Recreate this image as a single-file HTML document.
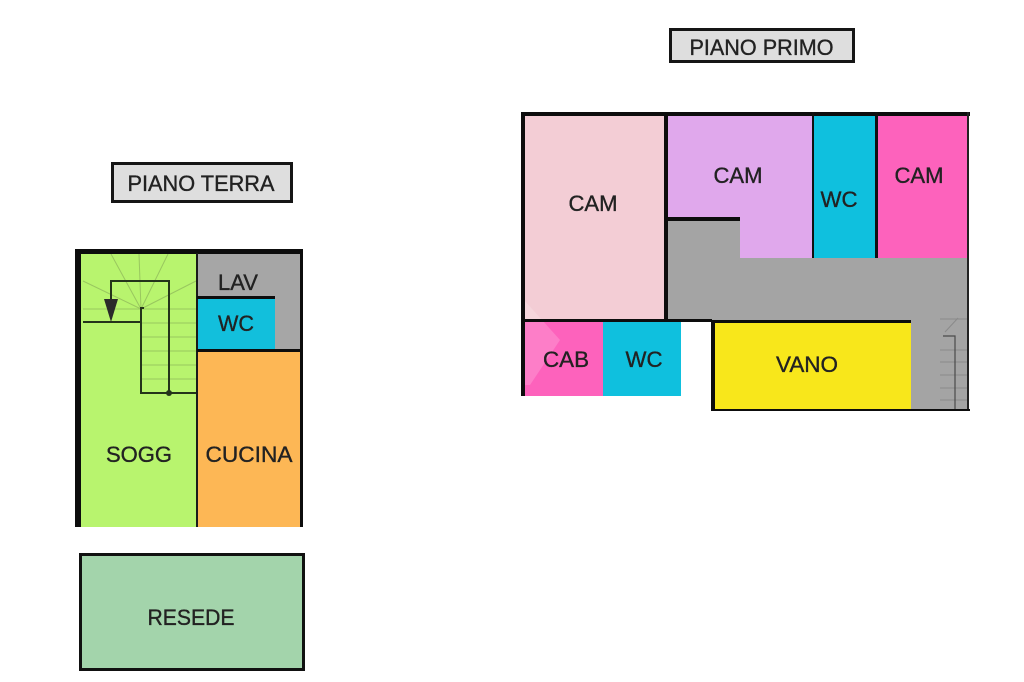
<!DOCTYPE html>
<html>
<head>
<meta charset="utf-8">
<style>
html,body{margin:0;padding:0;background:#fff;}
svg{display:block;}
text{font-family:"Liberation Sans",Arial,sans-serif;fill:#222;stroke:#222;stroke-width:0.35;}
</style>
</head>
<body>
<svg width="1024" height="682" viewBox="0 0 1024 682" xmlns="http://www.w3.org/2000/svg">
<rect x="0" y="0" width="1024" height="682" fill="#ffffff"/>

<!-- ===== Title boxes ===== -->
<rect x="670.5" y="29.5" width="183" height="32" fill="#dedede" stroke="#151515" stroke-width="3"/>
<text x="761.5" y="55" font-size="22" text-anchor="middle" textLength="144" lengthAdjust="spacingAndGlyphs">PIANO PRIMO</text>

<rect x="112.5" y="163.5" width="179" height="38" fill="#dedede" stroke="#151515" stroke-width="3"/>
<text x="201" y="191" font-size="22" text-anchor="middle" textLength="147" lengthAdjust="spacingAndGlyphs">PIANO TERRA</text>

<!-- ===== PIANO TERRA ===== -->
<rect x="81" y="253" width="116" height="274" fill="#b8f46e"/>
<rect x="197" y="253" width="104" height="97" fill="#a6a6a6"/>
<rect x="198" y="298" width="77" height="51" fill="#12bfdc"/>
<rect x="198" y="351" width="103" height="176" fill="#fdb755"/>

<g stroke="#8fb85a" stroke-width="1" fill="none" opacity="0.75">
  <line x1="141" y1="309" x2="83" y2="281"/>
  <line x1="141" y1="309" x2="111" y2="254"/>
  <line x1="141" y1="309" x2="139" y2="254"/>
  <line x1="141" y1="309" x2="168" y2="254"/>
  <line x1="141" y1="309" x2="196" y2="281"/>
  <line x1="83" y1="309" x2="196" y2="309"/>
  <line x1="141" y1="323" x2="196" y2="323"/>
  <line x1="141" y1="337" x2="196" y2="337"/>
  <line x1="141" y1="351" x2="196" y2="351"/>
  <line x1="141" y1="365" x2="196" y2="365"/>
  <line x1="141" y1="379" x2="196" y2="379"/>
</g>
<g stroke="#24341a" stroke-width="2" fill="none">
  <polyline points="111,301 111,281 169,281 169,393"/>
  <polyline points="83,322 141,322 141,308 144,308"/>
  <polyline points="141,322 141,393 197,393"/>
</g>
<polygon points="104,299 118,299 111,322" fill="#2a2a2a"/>
<circle cx="169" cy="393" r="3" fill="#24341a"/>

<rect x="75" y="249" width="228" height="5" fill="#0d0d0d"/>
<rect x="75" y="249" width="6" height="278" fill="#0d0d0d"/>
<rect x="300" y="249" width="3" height="278" fill="#0d0d0d"/>
<rect x="196" y="253" width="2" height="274" fill="#1a1a1a"/>
<rect x="197" y="296" width="78" height="3" fill="#0d0d0d"/>
<rect x="197" y="349" width="106" height="3" fill="#0d0d0d"/>

<text x="238" y="290" font-size="22" text-anchor="middle" textLength="40" lengthAdjust="spacingAndGlyphs">LAV</text>
<text x="236" y="331" font-size="22" text-anchor="middle" textLength="36" lengthAdjust="spacingAndGlyphs">WC</text>
<text x="139" y="462" font-size="22" text-anchor="middle" textLength="66" lengthAdjust="spacingAndGlyphs">SOGG</text>
<text x="249" y="462" font-size="22" text-anchor="middle" textLength="87" lengthAdjust="spacingAndGlyphs">CUCINA</text>

<rect x="80.5" y="554.5" width="223" height="115" fill="#a3d4ab" stroke="#111" stroke-width="3"/>
<text x="191" y="625" font-size="22" text-anchor="middle" textLength="87" lengthAdjust="spacingAndGlyphs">RESEDE</text>

<!-- ===== PIANO PRIMO ===== -->
<rect x="524" y="114" width="142" height="207" fill="#f3cdd5"/>
<rect x="667" y="114" width="147" height="144" fill="#e0a8ec"/>
<rect x="667" y="219" width="73" height="39" fill="#a4a4a4"/>
<rect x="813" y="114" width="64" height="144" fill="#0fc0de"/>
<rect x="877" y="114" width="92" height="144" fill="#fd62bc"/>
<rect x="667" y="258" width="302" height="63" fill="#a4a4a4"/>
<rect x="911" y="258" width="58" height="152" fill="#a4a4a4"/>
<rect x="524" y="322" width="79" height="74" fill="#fd62bc"/>
<rect x="603" y="322" width="78" height="74" fill="#0fc0de"/>
<rect x="714" y="322" width="197" height="88" fill="#f8e71b"/>

<path d="M524,300 L560,340 L530,385 L524,385 Z" fill="#ffffff" opacity="0.18"/>

<g stroke="#8a8a8a" stroke-width="1" fill="none">
  <line x1="940" y1="319" x2="968" y2="319"/>
  <line x1="945" y1="332" x2="958" y2="318"/>
  <line x1="940" y1="350" x2="968" y2="350"/>
  <line x1="940" y1="362" x2="968" y2="362"/>
  <line x1="940" y1="375" x2="968" y2="375"/>
  <line x1="940" y1="388" x2="968" y2="388"/>
  <line x1="940" y1="400" x2="968" y2="400"/>
</g>
<g stroke="#4a4a4a" stroke-width="1.2" fill="none">
  <polyline points="943,336 955,336 955,410"/>
</g>

<rect x="522" y="112" width="448" height="4" fill="#0d0d0d"/>
<rect x="521" y="112" width="4" height="284" fill="#0d0d0d"/>
<rect x="664" y="112" width="4" height="209" fill="#0d0d0d"/>
<rect x="666" y="217" width="74" height="4" fill="#0d0d0d"/>
<rect x="812" y="112" width="2" height="146" fill="#111"/>
<rect x="875" y="112" width="3" height="146" fill="#111"/>
<rect x="967" y="112" width="2" height="299" fill="#222"/>
<rect x="522" y="319" width="190" height="3" fill="#0d0d0d"/>
<rect x="711" y="320" width="200" height="3" fill="#0d0d0d"/>
<rect x="711" y="320" width="4" height="91" fill="#0d0d0d"/>
<rect x="713" y="409" width="257" height="2" fill="#0d0d0d"/>

<text x="593" y="211" font-size="22" text-anchor="middle" textLength="49" lengthAdjust="spacingAndGlyphs">CAM</text>
<text x="738" y="183" font-size="22" text-anchor="middle" textLength="49" lengthAdjust="spacingAndGlyphs">CAM</text>
<text x="839" y="207" font-size="22" text-anchor="middle" textLength="37" lengthAdjust="spacingAndGlyphs">WC</text>
<text x="919" y="183" font-size="22" text-anchor="middle" textLength="49" lengthAdjust="spacingAndGlyphs">CAM</text>
<text x="566" y="367" font-size="22" text-anchor="middle" textLength="46" lengthAdjust="spacingAndGlyphs">CAB</text>
<text x="644" y="367" font-size="22" text-anchor="middle" textLength="37" lengthAdjust="spacingAndGlyphs">WC</text>
<text x="807" y="372" font-size="22" text-anchor="middle" textLength="62" lengthAdjust="spacingAndGlyphs">VANO</text>
</svg>
</body>
</html>
